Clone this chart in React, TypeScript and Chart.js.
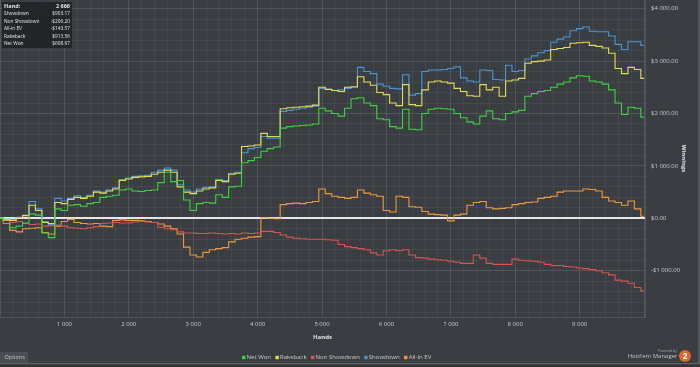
import React, { useEffect, useRef } from 'react';
import { Chart, registerables } from 'chart.js';

Chart.register(...registerables);

const HANDS = [
  0, 100, 200, 300, 400, 500, 600, 700, 800, 900,
  1000, 1100, 1200, 1300, 1400, 1500, 1600, 1700, 1800, 1900,
  2000, 2100, 2200, 2300, 2400, 2500, 2600, 2700, 2800, 2900,
  3000, 3100, 3200, 3300, 3400, 3500, 3600, 3700, 3800, 3900,
  4000, 4100, 4200, 4300, 4400, 4500, 4600, 4700, 4800, 4900,
  5000, 5100, 5200, 5300, 5400, 5500, 5600, 5700, 5800, 5900,
  6000, 6100, 6200, 6300, 6400, 6500, 6600, 6700, 6800, 6900,
  7000, 7100, 7200, 7300, 7400, 7500, 7600, 7700, 7800, 7900,
  8000, 8100, 8200, 8300, 8400, 8500, 8600, 8700, 8800, 8900,
  9000, 9100, 9200, 9300, 9400, 9500, 9600, 9700, 9800, 9900,
  10000,
];

const NET_WON = [
  0, -100, -180, -150, -90, 80, 60, -280, -370, 180,
  150, 250, 260, 230, 280, 300, 400, 420, 440, 540,
  560, 520, 510, 530, 540, 680, 880, 700, 720, 350,
  150, 280, 300, 290, 450, 400, 600, 610, 1060, 1100,
  1160, 1280, 1330, 1360, 1720, 1750, 1760, 1770, 1780, 1800,
  2100, 2050, 2000, 1950, 2100, 2280, 2300, 2200, 2150, 1900,
  1880, 1750, 1720, 2080, 1700, 1690, 2000, 2080, 2100, 2090,
  2080, 2000, 1920, 1840, 1800, 1950, 2050, 1900, 1880, 2000,
  2030, 2060, 2330, 2380, 2420, 2440, 2500, 2560, 2600, 2680,
  2720, 2710, 2620, 2600, 2560, 2450, 2200, 1980, 2120, 2100,
  1930,
];

const RAKEBACK = [
  0, -30, -40, 10, 50, 250, 150, -80, -100, 300,
  280, 360, 400, 380, 420, 500, 480, 520, 560, 720,
  750, 780, 790, 800, 840, 880, 920, 880, 600, 500,
  470, 520, 560, 580, 720, 700, 840, 860, 1370, 1380,
  1400, 1620, 1560, 1560, 2090, 2110, 2120, 2130, 2140, 2160,
  2500, 2460, 2440, 2420, 2500, 2510, 2700, 2600, 2540, 2400,
  2360, 2200, 2150, 2550, 2170, 2150, 2450, 2600, 2620, 2600,
  2580, 2480, 2420, 2340, 2330, 2550, 2450, 2500, 2330, 2620,
  2640, 2670, 2960, 2990, 3000, 3020, 3220, 3240, 3260, 3340,
  3350, 3360, 3300, 3280, 3250, 3150, 2860, 2760, 2880, 2840,
  2670,
];

const NON_SHOWDOWN = [
  0, -40, -80, -60, -100, -120, -110, -150, -140, -130,
  -150, -180, -190, -200, -180, -160, -100, -90, -80, -90,
  -90, -70, -60, -70, -80, -170, -200, -220, -260, -280,
  -280, -290, -290, -280, -290, -300, -290, -300, -280, -290,
  -280, -250, -250, -270, -320, -360, -380, -390, -400, -400,
  -400, -410, -420, -500, -540, -560, -580, -600, -660, -700,
  -620, -600, -620, -600, -700, -750, -760, -780, -790, -800,
  -820, -840, -860, -860, -700, -760, -860, -880, -880, -880,
  -780, -800, -810, -820, -840, -880, -900, -900, -920, -930,
  -950, -960, -980, -1000, -1040, -1080, -1180, -1200, -1240, -1320,
  -1390,
];

const SHOWDOWN = [
  0, -20, -30, 20, 60, 320, 180, -60, -120, 380,
  330, 380, 430, 400, 440, 520, 500, 540, 580, 740,
  770, 800, 810, 820, 880, 920, 960, 920, 640, 540,
  500, 560, 590, 600, 740, 720, 860, 880, 1250, 1330,
  1350, 1560, 1530, 1530, 2040, 2060, 2080, 2100, 2120, 2140,
  2480, 2460, 2440, 2450, 2480, 2500, 2880, 2800, 2760, 2560,
  2520, 2480, 2470, 2740, 2350, 2380, 2800, 2830, 2830, 2840,
  2860, 2890, 2680, 2620, 2600, 2830, 2820, 2650, 2640, 2920,
  2800, 2820, 3040, 3100, 3160, 3200, 3360, 3420, 3460, 3580,
  3620, 3650, 3570, 3560, 3560, 3480, 3320, 3220, 3370, 3370,
  3300,
];

const ALL_IN_EV = [
  0, -40, -230, -260, -200, -190, -180, -270, -300, -150,
  -60, -20, -80, -100, -110, -100, -150, -160, -40, -30,
  -40, -40, -50, -60, -80, -110, -150, -200, -300, -550,
  -700, -740, -650, -600, -580, -560, -450, -400, -380, -360,
  -350, 10, 0, -10, 260, 280, 290, 280, 300, 320,
  560, 470, 420, 400, 380, 400, 540, 480, 450, 420,
  150, 120, 420, 400, 220, 210, 130, 80, 70, 60,
  -50, 60, 80, 250, 300, 320, 200, 180, 190, 200,
  260, 280, 300, 310, 380, 400, 420, 500, 520, 520,
  520, 560, 550, 520, 400, 330, 300, 250, 330, 180,
  40,
];

const SERIES_LABELS = ['Net Won', 'Rakeback', 'Non Showdown', 'Showdown', 'All-In EV'];
const SERIES_COLORS = ['#3dd43d', '#e6dc55', '#d9534f', '#4596d8', '#ee9a3c'];
const SERIES_VALUES = [NET_WON, RAKEBACK, NON_SHOWDOWN, SHOWDOWN, ALL_IN_EV];

const INFO_HAND = '2 666';
const INFO_LABELS = ['Showdown', 'Non Showdown', 'All-in EV', 'Rakeback', 'Net Won'];
const INFO_VALUES = ['$903.17', '-$206.20', '-$143.57', '$913.56', '$698.97'];

const FONT = '"Open Sans", "DejaVu Sans", sans-serif';
const BG = '#3a3d42';
const MINOR = 'rgba(255,255,255,0.055)';
const MAJOR = 'rgba(255,255,255,0.12)';
const TEXT = '#c9c9c9';

function groupThousands(n: number): string {
  return String(Math.round(Math.abs(n))).replace(/\B(?=(\d{3})+(?!\d))/g, ' ');
}

function money(v: number): string {
  const neg = v < 0;
  return (neg ? '-' : '') + '$' + groupThousands(v) + '.00';
}

const decorPlugin = {
  id: 'decor',
  beforeDraw(chart: any) {
    const ctx = chart.ctx;
    ctx.save();
    ctx.fillStyle = BG;
    ctx.fillRect(0, 0, chart.width, chart.height);
    ctx.restore();
  },
  afterDraw(chart: any) {
    const ctx = chart.ctx;
    ctx.save();

    // info box
    ctx.fillStyle = 'rgba(34,36,39,0.92)';
    ctx.fillRect(2, 2, 70, 46);
    ctx.textBaseline = 'middle';
    ctx.fillStyle = '#e4e4e4';
    ctx.font = `bold 5.5px ${FONT}`;
    ctx.textAlign = 'left';
    ctx.fillText('Hand:', 4, 6.5);
    ctx.textAlign = 'right';
    ctx.fillText(INFO_HAND, 70, 6.5);
    ctx.font = `4.8px ${FONT}`;
    INFO_LABELS.forEach((lab, i) => {
      const y = 14 + i * 7.4;
      ctx.textAlign = 'left';
      ctx.fillText(lab, 4, y);
      ctx.textAlign = 'right';
      ctx.fillText(INFO_VALUES[i], 70, y);
    });

    // legend
    ctx.font = `6px ${FONT}`;
    ctx.textAlign = 'left';
    let x = 242;
    const ly = 357.5;
    SERIES_LABELS.forEach((lab, i) => {
      ctx.fillStyle = SERIES_COLORS[i];
      ctx.fillRect(x, ly - 1.7, 3.4, 3.4);
      x += 4.6;
      ctx.fillStyle = TEXT;
      ctx.fillText(lab, x, ly);
      x += ctx.measureText(lab).width + 4.4;
    });

    // options button
    ctx.fillStyle = '#4a4d52';
    ctx.fillRect(0, 352, 28, 11);
    ctx.fillStyle = '#c4c4c4';
    ctx.font = `5.5px ${FONT}`;
    ctx.fillText('Options', 4.5, 357.8);

    // bottom bar
    ctx.fillStyle = '#5c5f63';
    ctx.fillRect(0, 363, chart.width, 1.5);
    ctx.fillStyle = '#323438';
    ctx.fillRect(0, 364.5, chart.width, 2.5);
    ctx.fillStyle = '#55585c';
    ctx.fillRect(698, 0, 2, 363);

    // logo
    ctx.textAlign = 'right';
    ctx.fillStyle = '#a9a9a9';
    ctx.font = `3.5px ${FONT}`;
    ctx.fillText('Powered by', 677, 350.5);
    ctx.fillStyle = '#c4c4c4';
    ctx.font = `6px ${FONT}`;
    ctx.fillText("Hold'em Manager", 677.5, 356.5);
    ctx.fillStyle = '#e2672a';
    ctx.beginPath();
    ctx.arc(685, 356, 6, 0, Math.PI * 2);
    ctx.fill();
    ctx.fillStyle = '#ffffff';
    ctx.font = `bold 8px ${FONT}`;
    ctx.textAlign = 'center';
    ctx.fillText('2', 685, 356.5);

    ctx.restore();
  },
};

export default function App() {
  const ref = useRef<HTMLCanvasElement>(null);

  useEffect(() => {
    document.body.style.margin = '0';
    document.body.style.background = BG;
    const canvas = ref.current;
    if (!canvas) return;

    const datasets = SERIES_LABELS.map((label, i) => ({
      label,
      data: HANDS.map((h, j) => ({ x: h, y: SERIES_VALUES[i][j] })),
      borderColor: SERIES_COLORS[i],
      backgroundColor: SERIES_COLORS[i],
      borderWidth: 1.1,
      pointRadius: 0,
      tension: 0,
      stepped: 'middle',
      fill: false,
    }));

    const chart = new Chart(canvas, {
      type: 'line',
      data: { datasets } as any,
      plugins: [decorPlugin],
      options: {
        animation: false,
        responsive: false,
        events: [],
        layout: { padding: 0 },
        plugins: {
          legend: { display: false },
          tooltip: { enabled: false },
        },
        scales: {
          x: {
            type: 'linear',
            min: 0,
            max: 10015,
            afterBuildTicks: (s: any) => {
              const t: any[] = [];
              for (let v = 0; v <= 10000; v += 200) t.push({ value: v });
              s.ticks = t;
            },
            afterFit: (s: any) => {
              s.height = 50;
              s.paddingLeft = 0;
              s.paddingRight = 0;
            },
            ticks: {
              autoSkip: false,
              maxRotation: 0,
              minRotation: 0,
              padding: 4,
              color: TEXT,
              font: { family: FONT, size: 6 },
              callback: (v: any) => {
                const n = Number(v);
                return n % 1000 === 0 && n > 0 && n < 10000 ? groupThousands(n) : '';
              },
            },
            grid: {
              drawTicks: false,
              color: (c: any) => (c.tick && c.tick.value % 1000 === 0 ? MAJOR : MINOR),
              lineWidth: 1,
            },
            border: { display: true, color: MAJOR },
            title: {
              display: true,
              text: 'Hands',
              color: '#e2e2e2',
              font: { family: FONT, size: 6, weight: 'bold' },
              padding: { top: 0, bottom: 26 },
            },
          },
          y: {
            type: 'linear',
            position: 'right',
            min: -1884,
            max: 4166,
            afterBuildTicks: (s: any) => {
              const t: any[] = [];
              for (let v = -1800; v <= 4000; v += 200) t.push({ value: v });
              s.ticks = t;
            },
            afterFit: (s: any) => {
              s.width = 55;
              s.paddingTop = 0;
              s.paddingBottom = 0;
            },
            ticks: {
              autoSkip: false,
              padding: 6,
              color: TEXT,
              font: { family: FONT, size: 6 },
              callback: (v: any) => {
                const n = Number(v);
                return n % 1000 === 0 ? money(n) : '';
              },
            },
            grid: {
              drawTicks: false,
              color: (c: any) =>
                c.tick && c.tick.value === 0 ? '#e6e6e6' : c.tick && c.tick.value % 1000 === 0 ? MAJOR : MINOR,
              lineWidth: (c: any) => (c.tick && c.tick.value === 0 ? 2 : 1),
            },
            border: { display: true, color: MAJOR },
            title: {
              display: true,
              text: 'Winnings',
              color: '#e2e2e2',
              font: { family: FONT, size: 6, weight: 'bold' },
              padding: { top: 12.4, bottom: 0 },
            },
          },
        },
      } as any,
    });

    return () => chart.destroy();
  }, []);

  return (
    <div style={{ width: 700, height: 367 }}>
      <canvas ref={ref} width={700} height={367} style={{ display: 'block', width: 700, height: 367 }} />
    </div>
  );
}
